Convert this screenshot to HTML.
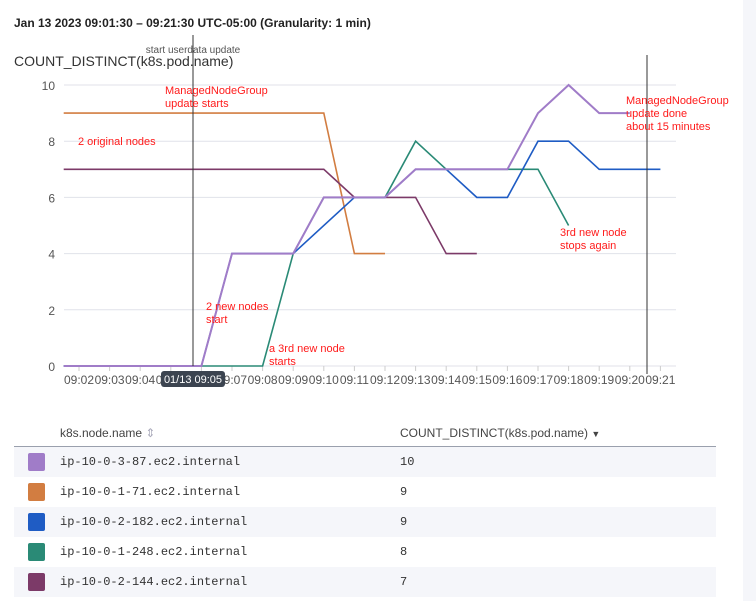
<!DOCTYPE html>
<html><head><meta charset="utf-8"><style>
body{margin:0;width:756px;height:601px;background:#fff;font-family:"Liberation Sans",sans-serif;position:relative;overflow:hidden}
.side{position:absolute;left:743px;top:0;width:13px;height:601px;background:#f5f6fa}
.title{position:absolute;left:14px;top:16px;font-size:12px;font-weight:bold;color:#222}
table{position:absolute;left:14px;top:419px;width:702px;border-collapse:collapse;font-size:12px}
th{font-weight:normal;color:#444;text-align:left;height:27px;padding:0;border-bottom:1px solid #9aa0ad;font-size:12px}
td{height:30px;padding:0;font-family:"Liberation Mono",monospace;color:#333;font-size:12px}
tr.g td{background:#f5f6fa}
.sw{display:inline-block;width:17px;height:18px;border-radius:2px;vertical-align:middle;margin-left:14px}
</style></head><body>
<div class="side"></div>
<div class="title">Jan 13 2023 09:01:30 – 09:21:30 UTC-05:00 (Granularity: 1 min)</div>
<svg id="chart" width="756" height="400" style="position:absolute;left:0;top:0"></svg>
<table>
<tr><th style="width:46px"></th><th style="width:340px">k8s.node.name <span style="color:#aab">⇕</span></th><th>COUNT_DISTINCT(k8s.pod.name) <span style="font-size:9px">▼</span></th></tr>
<tr class="g"><td><span class="sw" style="background:#a07cc8"></span></td><td>ip-10-0-3-87.ec2.internal</td><td>10</td></tr>
<tr><td><span class="sw" style="background:#d27d41"></span></td><td>ip-10-0-1-71.ec2.internal</td><td>9</td></tr>
<tr class="g"><td><span class="sw" style="background:#1f5cc4"></span></td><td>ip-10-0-2-182.ec2.internal</td><td>9</td></tr>
<tr><td><span class="sw" style="background:#2a8a76"></span></td><td>ip-10-0-1-248.ec2.internal</td><td>8</td></tr>
<tr class="g"><td><span class="sw" style="background:#7c3a68"></span></td><td>ip-10-0-2-144.ec2.internal</td><td>7</td></tr>
</table>
<script>
const minutes=[1.5,2,3,4,5,6,7,8,9,10,11,12,13,14,15,16,17,18,19,20,21];
const tickMinutes=[2,3,4,5,6,7,8,9,10,11,12,13,14,15,16,17,18,19,20,21];
const yTicks=[0,2,4,6,8,10];
const seriesNames=["ip-10-0-1-71","ip-10-0-2-144","ip-10-0-1-248","ip-10-0-2-182","ip-10-0-3-87"];
const seriesColors=["#d27d41","#7c3a68","#2a8a76","#1f5cc4","#a07cc8"];
const s171=[9,9,9,9,9,9,9,9,9,9,4,4,null,null,null,null,null,null,null,null,null];
const s2144=[7,7,7,7,7,7,7,7,7,7,6,6,6,4,4,null,null,null,null,null,null];
const s1248=[0,0,0,0,0,0,0,0,4,6,6,6,8,7,7,7,7,5,null,null,null];
const s2182=[0,0,0,0,0,0,4,4,4,null,6,6,7,7,6,6,8,8,7,7,7];
const s387=[0,0,0,0,0,0,4,4,4,6,6,6,7,7,7,7,9,10,9,9,null];
const seriesData=[s171,s2144,s1248,s2182,s387];
const svg=document.getElementById('chart');const NS='http://www.w3.org/2000/svg';
const x=m=>79+(m-2)*30.6;const y=v=>366-v*28.1;
function mk(t,a,txt){const e=document.createElementNS(NS,t);for(const k in a)e.setAttribute(k,a[k]);if(txt!==undefined)e.textContent=txt;svg.appendChild(e);return e;}
yTicks.forEach(v=>{const g=mk('line',{x1:64,x2:676,y1:y(v),y2:y(v),stroke:'#e0e2ea','stroke-width':1});


const t=mk('text',{x:55,y:y(v)+5,'text-anchor':'end','font-size':12,fill:'#555'},v);

});
tickMinutes.forEach(m=>{const l=mk('line',{x1:x(m),x2:x(m),y1:366,y2:371,stroke:'#ccc'});


const t=mk('text',{x:x(m),y:384,'text-anchor':'middle','font-size':12,fill:'#555'},'09:'+String(m).padStart(2,'0'));

});
seriesData.forEach((d,i)=>{let p='';let pen=false;
d.forEach((v,j)=>{if(v===null){if(i===3&&j===9)return;pen=false;return;}p+=(pen?'L':'M')+x(minutes[j]).toFixed(1)+','+y(v).toFixed(1);pen=true;});
const e=mk('path',{d:p,fill:'none',stroke:seriesColors[i],'stroke-width':i==4?2:1.6});

});
const v1=mk('line',{x1:193,x2:193,y1:35,y2:366,stroke:'#333','stroke-width':1});


const v2=mk('line',{x1:647,x2:647,y1:55,y2:374,stroke:'#333','stroke-width':1});


const mt=mk('text',{x:193,y:53,'text-anchor':'middle','font-size':10,fill:'#555'},'start userdata update');


const at=mk('text',{x:14,y:66,'font-size':14,fill:'#333'},'COUNT_DISTINCT(k8s.pod.name)');


const tb=mk('rect',{x:161,y:371,width:64,height:16,rx:3,fill:'#3c4450'});


const tt=mk('text',{x:193,y:383,'text-anchor':'middle','font-size':11,fill:'#fff'},'01/13 09:05');


const notes=[[165,94,'ManagedNodeGroup'],[165,107,'update starts'],[78,145,'2 original nodes'],[206,310,'2 new nodes'],[206,323,'start'],[269,352,'a 3rd new node'],[269,365,'starts'],[560,236,'3rd new node'],[560,249,'stops again'],[626,104,'ManagedNodeGroup'],[626,117,'update done'],[626,130,'about 15 minutes']];
notes.forEach(n=>{const t=mk('text',{x:n[0],y:n[1],'font-size':11,fill:'#ff1a1a'},n[2]);

});
</script>
</body></html>
